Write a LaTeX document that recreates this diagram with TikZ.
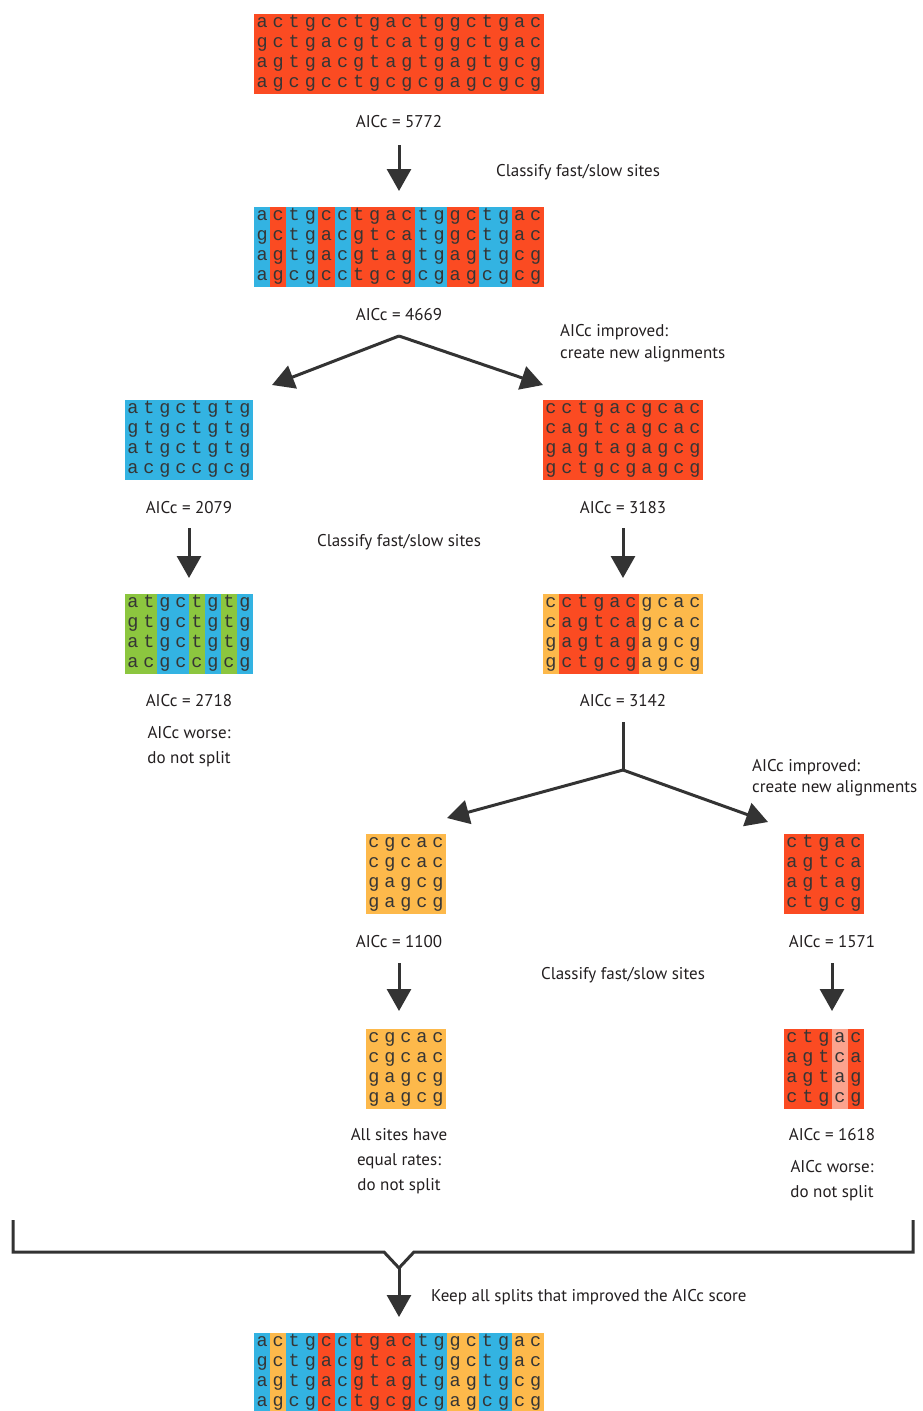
\documentclass[tikz,border=0pt]{standalone}
\usepackage{fontspec}
\setsansfont{PT Sans}
\newfontfamily\monof{Liberation Mono}
\usetikzlibrary{arrows.meta}
\definecolor{R}{HTML}{FB4B22}
\definecolor{B}{HTML}{33B3E2}
\definecolor{G}{HTML}{8CC63F}
\definecolor{O}{HTML}{FDB94B}
\definecolor{L}{HTML}{FBA38E}
\definecolor{ink}{HTML}{333333}
\definecolor{txt}{HTML}{231F20}
\definecolor{let}{HTML}{353535}
\tikzset{
  alnnode/.style={inner sep=0pt, minimum height=80, anchor=north west},
  letter/.style={anchor=base, inner sep=0pt, font=\monof\fontsize{18.5}{18.5}\selectfont, text=let},
  lbl/.style={anchor=base, inner sep=0pt, font=\sffamily\fontsize{17}{20}\selectfont, text=txt},
  lbll/.style={lbl, anchor=base west},
  arr/.style={draw=ink, line width=3pt, -{Triangle[length=22pt,width=24pt]}},
  ln/.style={draw=ink, line width=3pt, miter limit=10},
}
% #1 name, #2 x, #3 y, #4 column width, #5 ncols, #6 colours, #7 rows
\newcommand\alnbox[7]{%
  \node[alnnode, minimum width={#4*#5}] (#1) at (#2,#3) {};
  \foreach \cc [count=\i from 0] in {#6} {
    \fill[\cc] ({#2+\i*#4},#3) rectangle ({#2+(\i+1)*#4},{#3+80});
  }
  \foreach \rr [count=\j from 0] in {#7} {
    \foreach \ch [count=\i from 0] in \rr {
      \node[letter] (#1-\j-\i) at ({#2+(\i+0.5)*#4},{#3+13.5+20*\j}) {\ch};
    }
  }
}
\begin{document}
\begin{tikzpicture}[x=1pt,y=-1pt]
\useasboundingbox (0,0) rectangle (922,1411);
\fill[white] (0,0) rectangle (922,1411);

% alignments
\alnbox{A1}{254}{14}{16.1}{18}{R,R,R,R,R,R,R,R,R,R,R,R,R,R,R,R,R,R}
  {{a,c,t,g,c,c,t,g,a,c,t,g,g,c,t,g,a,c},{g,c,t,g,a,c,g,t,c,a,t,g,g,c,t,g,a,c},{a,g,t,g,a,c,g,t,a,g,t,g,a,g,t,g,c,g},{a,g,c,g,c,c,t,g,c,g,c,g,a,g,c,g,c,g}}
\alnbox{A2}{254}{207}{16.1}{18}{B,R,B,B,R,B,R,R,R,R,B,B,R,R,B,B,R,R}
  {{a,c,t,g,c,c,t,g,a,c,t,g,g,c,t,g,a,c},{g,c,t,g,a,c,g,t,c,a,t,g,g,c,t,g,a,c},{a,g,t,g,a,c,g,t,a,g,t,g,a,g,t,g,c,g},{a,g,c,g,c,c,t,g,c,g,c,g,a,g,c,g,c,g}}
\alnbox{B1}{125}{400}{16}{8}{B,B,B,B,B,B,B,B}
  {{a,t,g,c,t,g,t,g},{g,t,g,c,t,g,t,g},{a,t,g,c,t,g,t,g},{a,c,g,c,c,g,c,g}}
\alnbox{B2}{543}{400}{16}{10}{R,R,R,R,R,R,R,R,R,R}
  {{c,c,t,g,a,c,g,c,a,c},{c,a,g,t,c,a,g,c,a,c},{g,a,g,t,a,g,a,g,c,g},{g,c,t,g,c,g,a,g,c,g}}
\alnbox{C1}{125}{594}{16}{8}{G,G,B,B,G,B,G,B}
  {{a,t,g,c,t,g,t,g},{g,t,g,c,t,g,t,g},{a,t,g,c,t,g,t,g},{a,c,g,c,c,g,c,g}}
\alnbox{C2}{543}{594}{16}{10}{O,R,R,R,R,R,O,O,O,O}
  {{c,c,t,g,a,c,g,c,a,c},{c,a,g,t,c,a,g,c,a,c},{g,a,g,t,a,g,a,g,c,g},{g,c,t,g,c,g,a,g,c,g}}
\alnbox{D1}{366}{834}{16}{5}{O,O,O,O,O}
  {{c,g,c,a,c},{c,g,c,a,c},{g,a,g,c,g},{g,a,g,c,g}}
\alnbox{D2}{784}{834}{16}{5}{R,R,R,R,R}
  {{c,t,g,a,c},{a,g,t,c,a},{a,g,t,a,g},{c,t,g,c,g}}
\alnbox{E1}{366}{1029}{16}{5}{O,O,O,O,O}
  {{c,g,c,a,c},{c,g,c,a,c},{g,a,g,c,g},{g,a,g,c,g}}
\alnbox{E2}{784}{1029}{16}{5}{R,R,R,L,R}
  {{c,t,g,a,c},{a,g,t,c,a},{a,g,t,a,g},{c,t,g,c,g}}
\alnbox{F}{254}{1333}{16.1}{18}{B,O,B,B,R,B,R,R,R,R,B,B,O,O,B,B,O,O}
  {{a,c,t,g,c,c,t,g,a,c,t,g,g,c,t,g,a,c},{g,c,t,g,a,c,g,t,c,a,t,g,g,c,t,g,a,c},{a,g,t,g,a,c,g,t,a,g,t,g,a,g,t,g,c,g},{a,g,c,g,c,c,t,g,c,g,c,g,a,g,c,g,c,g}}

% labels
\node[lbl] (s1) at (399,127) {AICc = 5772};
\node[lbll] (c1) at (496,176) {Classify fast/slow sites};
\node[lbl] (s2) at (399,320) {AICc = 4669};
\node[lbll] (i1) at (560,336) {AICc improved:};
\node[lbll] (i1b) at (560,358) {create new alignments};
\node[lbl] (s3) at (189,513) {AICc = 2079};
\node[lbl] (s4) at (623,513) {AICc = 3183};
\node[lbl] (c2) at (399,546) {Classify fast/slow sites};
\node[lbl] (s5) at (189,706) {AICc = 2718};
\node[lbl] (s6) at (623,706) {AICc = 3142};
\node[lbl] (w1) at (189,738) {AICc worse:};
\node[lbl] (w1b) at (189,763) {do not split};
\node[lbll] (i2) at (752,771) {AICc improved:};
\node[lbll] (i2b) at (752,792) {create new alignments};
\node[lbl] (s7) at (399,947) {AICc = 1100};
\node[lbl] (s8) at (832,947) {AICc = 1571};
\node[lbl] (c3) at (623,979) {Classify fast/slow sites};
\node[lbl] (e1) at (399,1140) {All sites have};
\node[lbl] (e1b) at (399,1165) {equal rates:};
\node[lbl] (e1c) at (399,1190) {do not split};
\node[lbl] (s9) at (832,1140) {AICc = 1618};
\node[lbl] (w2) at (832,1172) {AICc worse:};
\node[lbl] (w2b) at (832,1197) {do not split};
\node[lbll] (k1) at (431,1301) {Keep all splits that improved the AICc score};

% connector coordinates
\coordinate (a1s) at (399,145);  \coordinate (a1e) at (399,191);
\coordinate (sp1) at (399,336);
\coordinate (sp1l) at (272,385); \coordinate (sp1r) at (543,385);
\coordinate (b1s) at (189,528);  \coordinate (b1e) at (189,578);
\coordinate (b2s) at (623,528);  \coordinate (b2e) at (623,578);
\coordinate (sp2s) at (623,722); \coordinate (sp2) at (623,770);
\coordinate (sp2l) at (447,818); \coordinate (sp2r) at (768,822);
\coordinate (d1s) at (399,963);  \coordinate (d1e) at (399,1011);
\coordinate (d2s) at (832,963);  \coordinate (d2e) at (832,1011);
\coordinate (brl) at (13,1220);  \coordinate (brr) at (913,1220);
\coordinate (brv) at (399,1268); \coordinate (fe) at (399,1317);

% connectors
\draw[arr] (a1s) -- (a1e);
\draw[arr] (sp1) -- (sp1l);
\draw[arr] (sp1) -- (sp1r);
\draw[arr] (b1s) -- (b1e);
\draw[arr] (b2s) -- (b2e);
\draw[ln] (sp2s) -- (sp2);
\draw[arr] (sp2) -- (sp2l);
\draw[arr] (sp2) -- (sp2r);
\draw[arr] (d1s) -- (d1e);
\draw[arr] (d2s) -- (d2e);
\draw[ln] (brl) -- (13,1252) -- (384,1252) -- (brv) -- (414,1252) -- (913,1252) -- (brr);
\draw[arr] (brv) -- (fe);
\end{tikzpicture}
\end{document}
